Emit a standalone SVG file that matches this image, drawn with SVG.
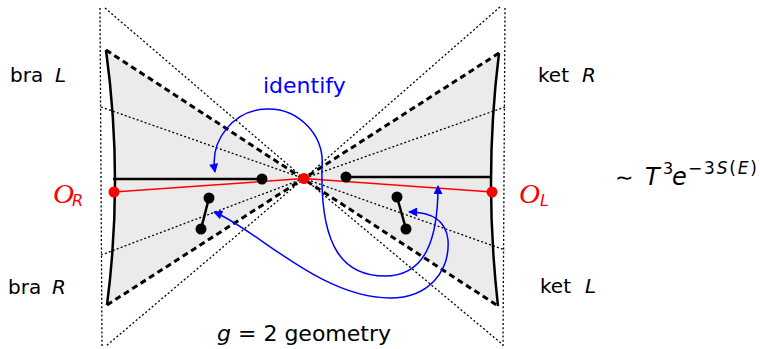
<svg xmlns="http://www.w3.org/2000/svg" width="760" height="349" viewBox="0 0 760 349">
<defs>
<style>
.fill{fill:#ebebeb;stroke:none}
.dot{fill:none;stroke:#000;stroke-width:1.3;stroke-dasharray:2 2.2}
.dash{fill:none;stroke:#000;stroke-width:3;stroke-dasharray:6 4}
.bd{fill:none;stroke:#000;stroke-width:2.5}
.red{fill:none;stroke:#f00;stroke-width:1.5}
.blue{fill:none;stroke:#00f;stroke-width:1.5;marker-start:url(#ah);marker-end:url(#ah)}
.t{font-family:"DejaVu Sans",sans-serif;font-size:20px;fill:#000}
.it{font-style:italic}
</style>
<marker id="ah" viewBox="0 0 10 10" refX="9" refY="5" markerWidth="10" markerHeight="9" markerUnits="userSpaceOnUse" orient="auto-start-reverse">
<path d="M0,0 L10,5 L0,10 Z" fill="#00f"/>
</marker>
</defs>
<rect width="760" height="349" fill="#fff"/>
<g id="geometry">
<path class="fill" d="M106,50 Q123.5,178 107,305 L304,178.5 Z"/>
<path class="fill" d="M499,53 Q483.5,178 498,306 L304,178.5 Z"/>
<line class="dot" x1="100" y1="8" x2="102" y2="346"/>
<line class="dot" x1="505" y1="8" x2="503" y2="346"/>
<polyline class="dot" points="105,8 304,178.5 502,344"/>
<polyline class="dot" points="500,7 304,178.5 106,346"/>
<polyline class="dot" points="101,107 304,178.5 505,250"/>
<polyline class="dot" points="101,255 304,178.5 505,107"/>
<line class="dash" x1="106" y1="50" x2="498" y2="306"/>
<line class="dash" x1="107" y1="305" x2="499" y2="53"/>
<path class="bd" d="M106,50 Q123.5,178 107,305"/>
<path class="bd" d="M499,53 Q483.5,178 498,306"/>
<line class="bd" x1="113" y1="179" x2="262" y2="179"/>
<line class="bd" x1="346" y1="177" x2="492" y2="177"/>
<line class="bd" x1="209" y1="198" x2="201" y2="229"/>
<line class="bd" x1="397" y1="197" x2="406" y2="229"/>
<polyline class="red" points="114,192 304,178.5 492,192"/>
</g>
<g id="points">
<circle cx="262" cy="179" r="5.5" fill="#000"/>
<circle cx="346" cy="177" r="5.5" fill="#000"/>
<circle cx="209" cy="198" r="5.5" fill="#000"/>
<circle cx="201" cy="229" r="5.5" fill="#000"/>
<circle cx="397" cy="197" r="5.5" fill="#000"/>
<circle cx="406" cy="229" r="5.5" fill="#000"/>
<circle cx="304" cy="178.5" r="5.5" fill="#f00"/>
<circle cx="114" cy="192" r="5.5" fill="#f00"/>
<circle cx="492" cy="192" r="5.5" fill="#f00"/>
</g>
<g id="connectors">
<path class="blue" d="M215,172 A54,54 0 1 1 322,168 C320,250 345,276 385,276 C425,276 438,240 438,186"/>
<path class="blue" d="M214,212 C255,228 320,298 390,298 C430,298 450,270 448,240 C446,220 432,212 409,212"/>
</g>
<g id="labels">
<text class="t" x="263" y="93" style="font-size:22px;fill:#00f">identify</text>
<text class="t" x="10" y="82">bra</text><text class="t it" x="55" y="82">L</text>
<text class="t" x="8" y="294">bra</text><text class="t it" x="52" y="294">R</text>
<text class="t" x="538" y="82">ket</text><text class="t it" x="582" y="82">R</text>
<text class="t" x="540" y="293">ket</text><text class="t it" x="585" y="293">L</text>
<text x="53" y="203" textLength="21" lengthAdjust="spacingAndGlyphs" style="font-family:'Liberation Serif',serif;font-style:italic;font-size:27px;fill:#f00">O</text>
<text class="t it" x="72" y="206" style="font-size:16px;fill:#f00">R</text>
<text x="519" y="203" textLength="21" lengthAdjust="spacingAndGlyphs" style="font-family:'Liberation Serif',serif;font-style:italic;font-size:27px;fill:#f00">O</text>
<text class="t it" x="540" y="206" style="font-size:16px;fill:#f00">L</text>
<text class="t" x="615" y="185" style="font-size:22px">∼</text>
<text class="t it" x="645" y="185" style="font-size:24px">T</text>
<text class="t" x="663" y="174" style="font-size:16px">3</text>
<text class="t it" x="672" y="185" style="font-size:24px">e</text>
<text class="t" x="688" y="174" textLength="69" style="font-size:17px">−3<tspan class="it">S</tspan>(<tspan class="it">E</tspan>)</text>
<text class="t" x="217" y="341" style="font-size:22px"><tspan class="it">g</tspan> = 2 geometry</text>
</g>
</svg>
